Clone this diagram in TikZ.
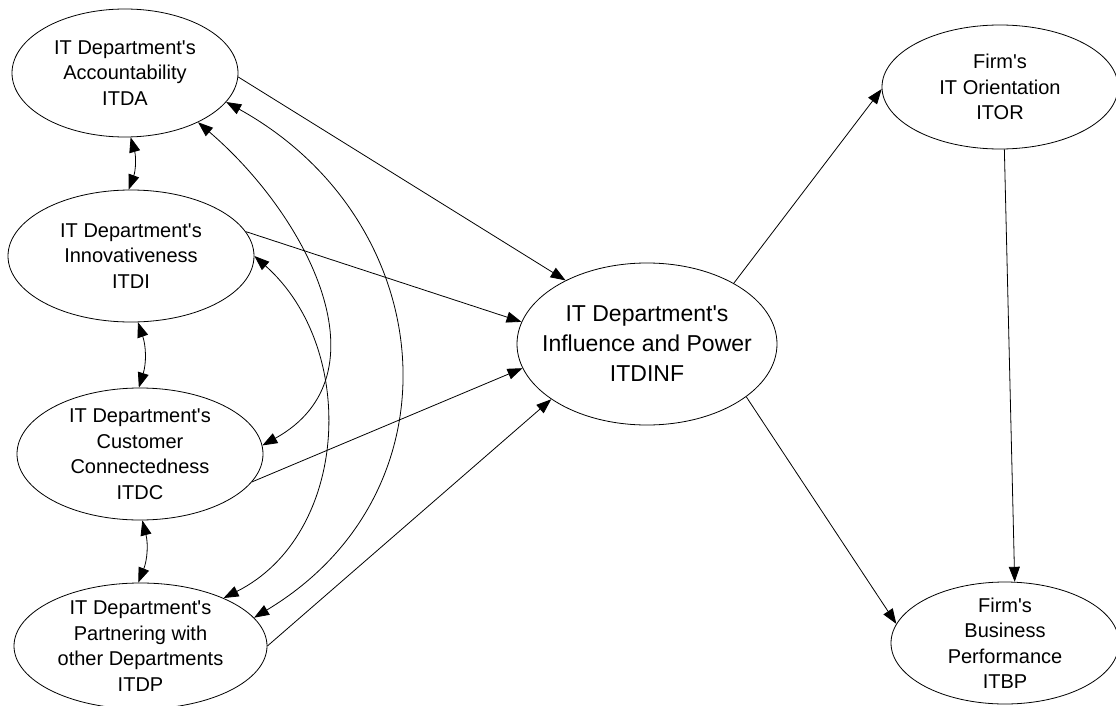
\documentclass[tikz,border=0pt]{standalone}
\usepackage{fontspec}
\setmainfont{Liberation Sans}[Ligatures=TeXOff]
\usetikzlibrary{shapes.geometric,arrows.meta}
\begin{document}
\begin{tikzpicture}[x=1pt,y=1pt,
  construct/.style={draw, line width=0.8pt, ellipse, inner sep=-15pt, align=center,
    font=\fontsize{20}{25.5}\selectfont},
  bigconstruct/.style={construct, font=\fontsize{23}{30}\selectfont},
  tip/.style={Triangle[length=15pt,width=11pt]},
  link/.style={line width=0.8pt, -{Triangle[length=15pt,width=11pt]}},
  covar/.style={line width=0.8pt, {Triangle[length=15pt,width=11pt]}-{Triangle[length=15pt,width=11pt]}}]
\useasboundingbox (0,0) rectangle (1116,-706);

% exogenous constructs
\node[construct, minimum width=226pt, minimum height=128pt] (ITDA) at (125,-73)
  {IT Department's\\Accountability\\ITDA};
\node[construct, minimum width=246pt, minimum height=132pt] (ITDI) at (131,-256)
  {IT Department's\\Innovativeness\\ITDI};
\node[construct, minimum width=246pt, minimum height=132pt] (ITDC) at (140,-454)
  {IT Department's\\Customer\\Connectedness\\ITDC};
\node[construct, minimum width=253pt, minimum height=126pt] (ITDP) at (140.5,-646)
  {IT Department's\\Partnering with\\other Departments\\ITDP};

% mediator and outcomes
\node[bigconstruct, minimum width=260pt, minimum height=162pt] (ITDINF) at (647,-344)
  {IT Department's\\Influence and Power\\ITDINF};
\node[construct, minimum width=236pt, minimum height=124pt] (ITOR) at (1000,-87)
  {Firm's\\IT Orientation\\ITOR};
\node[construct, minimum width=228pt, minimum height=122pt] (ITBP) at (1005,-643)
  {Firm's\\Business\\Performance\\ITBP};

% structural paths
\draw[link] (ITDA.-2) -- (ITDINF.142);
\draw[link] (ITDI.12.6) -- (ITDINF.170);
\draw[link] (ITDC.-14) -- (ITDINF.191);
\draw[link] (ITDP.0) -- (ITDINF.210);
\draw[link] (ITDINF.35.8) -- (ITOR.181.4);
\draw[link] (ITDINF.-28.9) -- (ITBP.170.7);
\draw[link] (ITOR.-86.3) -- (ITBP.81.6);

% correlations among exogenous constructs
\draw[covar] (ITDA.-85.6) to[bend left=18] (ITDI.92.5);
\draw[covar] (ITDI.-84) to[bend left=18] (ITDC.91.7);
\draw[covar] (ITDC.-88) to[bend left=18] (ITDP.92.7);
\draw[covar] (ITDA.-34.8) .. controls +(-40.6:145pt) and +(29:145pt) .. (ITDC.4.2);
\draw[covar] (ITDA.-16.4) .. controls +(-29:245pt) and +(31:245pt) .. (ITDP.14.4);
\draw[covar] (ITDI.-0.5) .. controls +(-41.6:140pt) and +(26.6:140pt) .. (ITDP.30);
\end{tikzpicture}
\end{document}
